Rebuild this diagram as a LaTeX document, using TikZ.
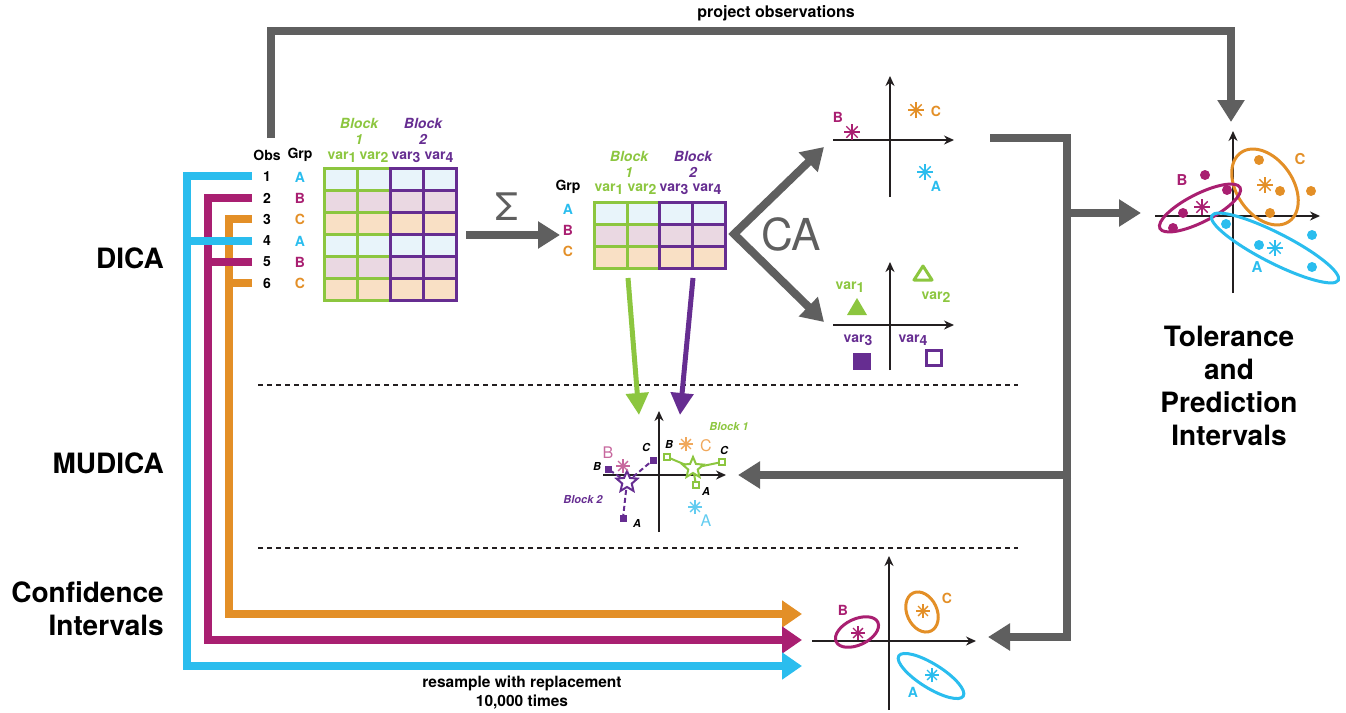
\documentclass[tikz,border=0pt]{standalone}
\usepackage{fontspec}
\setmainfont{TeX Gyre Heros}
\usetikzlibrary{arrows.meta,shapes.geometric}

\definecolor{grpA}{HTML}{2ABDEE}
\definecolor{grpB}{HTML}{A91F71}
\definecolor{grpC}{HTML}{E38F27}
\definecolor{paleA}{HTML}{62CCF0}
\definecolor{paleB}{HTML}{C7689E}
\definecolor{paleC}{HTML}{F0A85C}
\definecolor{blkone}{HTML}{8CC63F}
\definecolor{blktwo}{HTML}{662D91}
\definecolor{flow}{HTML}{5F5F5F}
\definecolor{axisblack}{HTML}{231F20}
\definecolor{cellA}{HTML}{E8F4FA}
\definecolor{cellB}{HTML}{EAD8E2}
\definecolor{cellC}{HTML}{F9E0C5}

\newcommand{\vsub}[1]{\raisebox{-3.5pt}{#1}}

\begin{document}
\begin{tikzpicture}[x=1pt,y=-1pt,
  flowline/.style={line width=8pt,flow},
  flowarrow/.style={flowline,-{Triangle[length=22pt,width=26pt]}},
  resample/.style={line width=8pt,-{Triangle[length=20pt,width=26pt]}},
  blockarrow/.style={line width=5pt,-{Triangle[length=22pt,width=22pt]}},
  axisline/.style={line width=1.5pt,axisblack,-{Stealth[length=10pt,width=9pt]}},
  lbl/.style={font=\bfseries\fontsize{14}{16}\selectfont,inner sep=0pt},
  tinylbl/.style={font=\bfseries\itshape\fontsize{11}{13}\selectfont,inner sep=0pt},
  palelbl/.style={font=\fontsize{16}{18}\selectfont,inner sep=0pt},
  head/.style={font=\bfseries\fontsize{28}{33}\selectfont,inner sep=0pt},
  blockhead/.style={font=\bfseries\itshape\fontsize{14}{16}\selectfont,align=center,inner sep=0pt},
  gridline/.style={line width=3pt,line cap=rect},
  divider/.style={line width=1.5pt,axisblack,dash pattern=on 5pt off 4pt},
  ell/.style={line width=3pt},
  asterisk/.pic={\foreach \a in {0,45,90,135} \draw[line width=1.4pt] (\a:#1) -- (\a+180:#1);}
]
\useasboundingbox (0,0) rectangle (1346,712);

% section titles
\node[head,anchor=east] (dica) at (164,258) {DICA};
\node[head,anchor=east] (mudica) at (164,463) {MUDICA};
\node[head,anchor=east,align=right] (confint) at (164,609) {Confidence\\Intervals};
\node[head,align=center] (tolint) at (1229,386) {Tolerance\\and\\Prediction\\Intervals};

\draw[divider] (258,385) -- (1018,385);
\draw[divider] (258,548) -- (1018,548);

% observations
\node[lbl] (obshead) at (267,155) {Obs};
\node[lbl] (grphead) at (300,155) {Grp};
\foreach \n/\g/\c/\y in {1/A/grpA/177,2/B/grpB/198,3/C/grpC/219,4/A/grpA/241,5/B/grpB/262,6/C/grpC/283}{
  \node[lbl] (obs\n) at (267,\y) {\n};
  \node[lbl,text=\c] (grp\n) at (300,\y) {\g};
}

% data table
\foreach \c [count=\r from 0] in {cellA,cellB,cellC,cellA,cellB,cellC}
  \fill[\c] (324,{168+22*\r}) rectangle (456,{190+22*\r});
\foreach \r in {0,...,6}{
  \draw[gridline,blkone] (324,{168+22*\r}) -- (390,{168+22*\r});
  \draw[gridline,blktwo] (390,{168+22*\r}) -- (456,{168+22*\r});
}
\foreach \x in {324,357} \draw[gridline,blkone] (\x,168) -- (\x,300);
\foreach \x in {390,423,456} \draw[gridline,blktwo] (\x,168) -- (\x,300);
\node[blockhead,text=blkone] (blkA) at (359,131) {Block\\1};
\node[blockhead,text=blktwo] (blkB) at (423,131) {Block\\2};
\node[lbl,text=blkone] at (342,157) {var\vsub{1}};
\node[lbl,text=blkone] at (374,157) {var\vsub{2}};
\node[lbl,text=blktwo] at (406,157) {var\vsub{3}};
\node[lbl,text=blktwo] at (439,157) {var\vsub{4}};

% group table
\foreach \c [count=\r from 0] in {cellA,cellB,cellC}
  \fill[\c] (594,{202+22*\r}) rectangle (725,{224+22*\r});
\foreach \r in {0,...,3}{
  \draw[gridline,blkone] (594,{202+22*\r}) -- (659,{202+22*\r});
  \draw[gridline,blktwo] (659,{202+22*\r}) -- (725,{202+22*\r});
}
\foreach \x in {594,627} \draw[gridline,blkone] (\x,202) -- (\x,268);
\foreach \x in {659,692,725} \draw[gridline,blktwo] (\x,202) -- (\x,268);
\node[blockhead,text=blkone] (sblkA) at (629,164) {Block\\1};
\node[blockhead,text=blktwo] (sblkB) at (693,164) {Block\\2};
\node[lbl,text=blkone] at (609,189) {var\vsub{1}};
\node[lbl,text=blkone] at (642,189) {var\vsub{2}};
\node[lbl,text=blktwo] at (674,189) {var\vsub{3}};
\node[lbl,text=blktwo] at (707,189) {var\vsub{4}};
\node[lbl] (sgrp) at (568,187) {Grp};
\node[lbl,text=grpA] (sA) at (568,209) {A};
\node[lbl,text=grpB] (sB) at (568,230) {B};
\node[lbl,text=grpC] (sC) at (568,251) {C};

% sum and CA
\coordinate (sumstart) at (466,235);
\coordinate (sumend) at (560,235);
\draw[flowarrow] (sumstart) -- (sumend);
\node[font=\fontsize{38}{38}\selectfont,text=flow,inner sep=0pt] (sum) at (507,207) {Σ};
\coordinate (caroot) at (734,234);
\coordinate (caup) at (824,147);
\coordinate (cadown) at (824,322);
\draw[flowline,{Triangle[length=22pt,width=26pt]}-{Triangle[length=22pt,width=26pt]}] (caup) -- (caroot) -- (cadown);
\node[font=\fontsize{44}{44}\selectfont,text=flow,inner sep=0pt] (ca) at (791,234) {CA};

% group factor scores
\draw[axisline] (833,140) -- (954,140);
\draw[axisline] (890,197) -- (890,76);
\pic[grpB] at (852,132) {asterisk=8};
\pic[grpC] at (916,110) {asterisk=8};
\pic[grpA] at (925,172) {asterisk=8};
\node[lbl,text=grpB] (fB) at (838,117) {B};
\node[lbl,text=grpC] (fC) at (936,111) {C};
\node[lbl,text=grpA] (fA) at (936,186) {A};

% variable loadings
\draw[axisline] (833,325) -- (954,325);
\draw[axisline] (890,370) -- (890,262);
\fill[blkone] (847,315) -- (867,315) -- (857,298) -- cycle;
\draw[blkone,line width=3pt,line join=round] (914,280) -- (932,280) -- (923,266) -- cycle;
\fill[blktwo] (853,353) rectangle (871,370);
\draw[blktwo,line width=3pt] (926,350) rectangle (941,365);
\node[lbl,text=blkone] (v1) at (850,287) {var\vsub{1}};
\node[lbl,text=blkone] (v2) at (936,297) {var\vsub{2}};
\node[lbl,text=blktwo] (v3) at (858,340) {var\vsub{3}};
\node[lbl,text=blktwo] (v4) at (913,340) {var\vsub{4}};

% right collector
\coordinate (colstart) at (990,138);
\coordinate (coltol) at (1141,213);
\coordinate (colmu) at (738,475);
\coordinate (colci) at (988,637);
\draw[flowarrow] (colstart) -| (1067,637) -- (colci);
\draw[flowarrow] (1063,213) -- (coltol);
\draw[flowarrow] (1071,475) -- (colmu);

% project observations
\coordinate (projstart) at (271,138);
\coordinate (projend) at (1231,122);
\draw[flowarrow] (projstart) |- (1231,31) -- (projend);
\node[lbl,font=\bfseries\fontsize{16}{16}\selectfont] (proj) at (776,13) {project observations};

% tolerance and prediction
\draw[axisline] (1155,216) -- (1320,216);
\draw[axisline] (1233,293) -- (1233,131);
\draw[grpC,ell,rotate around={-55:(1265,187)}] (1265,187) ellipse (42 and 28);
\draw[grpB,ell,rotate around={27:(1200,208)}] (1200,208) ellipse (45 and 14);
\draw[grpA,ell,rotate around={-27:(1275,248)}] (1275,248) ellipse (71 and 15);
\foreach \p in {(1205,175),(1227,190),(1183,213),(1173,228)} \fill[grpB] \p circle (5);
\foreach \p in {(1259,160),(1280,191),(1311,191),(1270,213)} \fill[grpC] \p circle (5);
\foreach \p in {(1226,224),(1259,245),(1312,235),(1312,267)} \fill[grpA] \p circle (5);
\pic[grpB] at (1202,207) {asterisk=8};
\pic[grpC] at (1265,185) {asterisk=8};
\pic[grpA] at (1275,248) {asterisk=8};
\node[lbl,font=\bfseries\fontsize{15}{15}\selectfont,text=grpB] (tB) at (1182,180) {B};
\node[lbl,font=\bfseries\fontsize{15}{15}\selectfont,text=grpC] (tC) at (1300,159) {C};
\node[lbl,font=\bfseries\fontsize{15}{15}\selectfont,text=grpA] (tA) at (1257,267) {A};

% block projections
\coordinate (gstart) at (628,278);
\coordinate (gend) at (639,415);
\coordinate (pstart) at (693,278);
\coordinate (pend) at (680,415);
\draw[blockarrow,blkone] (gstart) -- (gend);
\draw[blockarrow,blktwo] (pstart) -- (pend);

% MUDICA partial scores
\draw[axisline] (603,475) -- (726,475);
\draw[axisline] (659,532) -- (659,411);
\coordinate (pstar) at (627,482);
\coordinate (gstar) at (693,468);
\draw[blktwo,line width=2pt,dash pattern=on 5pt off 3pt] (pstar) -- (608,469);
\draw[blktwo,line width=2pt,dash pattern=on 5pt off 3pt] (pstar) -- (653,460);
\draw[blktwo,line width=2pt,dash pattern=on 5pt off 3pt] (pstar) -- (623,518);
\foreach \p in {(608,469),(653,460),(623,518)} \fill[blktwo] \p +(-3.5,-3.5) rectangle +(3.5,3.5);
\draw[blkone,line width=2pt] (667,457) -- (gstar) -- (722,462);
\draw[blkone,line width=2pt] (gstar) -- (696,485);
\foreach \p in {(667,457),(722,462),(696,485)} \draw[blkone,line width=1.5pt,fill=white] \p +(-3,-3) rectangle +(3,3);
\node[star,star points=5,star point ratio=2.2,minimum size=22pt,inner sep=0pt,draw=blktwo,line width=2pt,fill=white] (pstarnode) at (pstar) {};
\node[star,star points=5,star point ratio=2.2,minimum size=22pt,inner sep=0pt,draw=blkone,line width=2pt,fill=white] (gstarnode) at (gstar) {};
\pic[paleB] at (623,466) {asterisk=7};
\pic[paleC] at (686,444) {asterisk=7};
\pic[paleA] at (695,507) {asterisk=7};
\node[palelbl,text=paleB] (mB) at (608,453) {B};
\node[palelbl,text=paleC] (mC) at (706,446) {C};
\node[palelbl,text=paleA] (mA) at (706,521) {A};
\node[tinylbl] (pB) at (597,466) {B};
\node[tinylbl] (pC) at (646,447) {C};
\node[tinylbl] (pA) at (637,523) {A};
\node[tinylbl] (gB) at (669,444) {B};
\node[tinylbl] (gC) at (724,450) {C};
\node[tinylbl] (gA) at (706,491) {A};
\node[tinylbl,text=blkone] (mblkA) at (729,427) {Block 1};
\node[tinylbl,text=blktwo] (mblkB) at (583,500) {Block 2};

% confidence intervals
\draw[axisline] (812,641) -- (976,641);
\draw[axisline] (889,710) -- (889,556);
\draw[grpB,ell,rotate around={25:(857,632)}] (857,632) ellipse (23 and 13);
\draw[grpC,ell,rotate around={-65:(922,612)}] (922,612) ellipse (21 and 15);
\draw[grpA,ell,rotate around={-32:(931,676)}] (931,676) ellipse (38 and 12);
\pic[grpB] at (858,633) {asterisk=7};
\pic[grpC] at (923,611) {asterisk=7};
\pic[grpA] at (932,675) {asterisk=7};
\node[lbl,text=grpB] (cB) at (843,610) {B};
\node[lbl,text=grpC] (cC) at (947,598) {C};
\node[lbl,text=grpA] (cA) at (913,692) {A};

% resampling
\coordinate (rsC) at (252,219);
\coordinate (rsB) at (252,198);
\coordinate (rsA) at (252,176);
\coordinate (tipC) at (802,614);
\coordinate (tipB) at (802,640);
\coordinate (tipA) at (802,666);
\draw[resample,grpC] (rsC) -| (229,614) -- (tipC);
\draw[resample,grpB] (rsB) -| (208,640) -- (tipB);
\draw[resample,grpA] (rsA) -| (187,666) -- (tipA);
\draw[grpA,line width=8pt] (252,241) -- (187,241);
\draw[grpB,line width=8pt] (252,262) -- (208,262);
\draw[grpC,line width=8pt] (252,283) -- (229,283);
\node[lbl,align=center,font=\bfseries\fontsize{15.5}{19}\selectfont] (resamp) at (522,693) {resample with replacement\\10,000 times};

\end{tikzpicture}
\end{document}
